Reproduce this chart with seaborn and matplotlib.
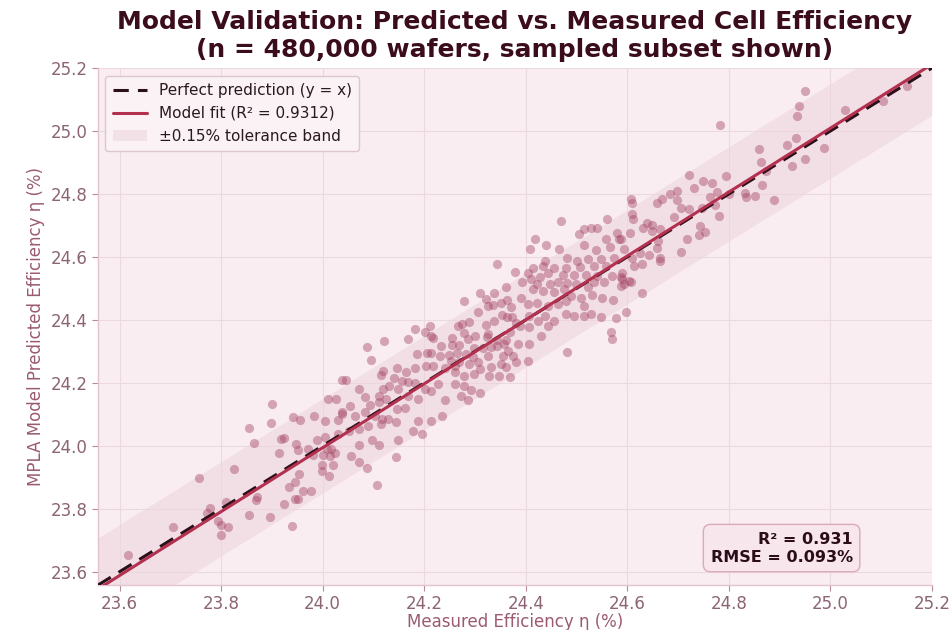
import numpy as np
import pandas as pd
import seaborn as sns
from matplotlib import pyplot as plt
from matplotlib.patches import Patch
from matplotlib.lines import Line2D

# sampled wafers (measured %, predicted %)
measured_low = [23.616, 23.706, 23.757, 23.778, 23.773, 23.794, 23.799, 23.814, 23.800, 23.809,
                23.826, 23.855, 23.865, 23.855, 23.871, 23.869, 23.897, 23.901, 23.899, 23.914,
                23.918, 23.924, 23.923, 23.933, 23.939, 23.942, 23.956, 23.947, 23.952, 23.946,
                23.954, 23.945, 23.952, 23.961, 23.978, 23.971, 23.982, 23.981, 23.998, 23.999,
                24.013, 24.020, 24.005, 24.011, 24.027, 23.989, 24.000, 24.008, 24.017, 24.025,
                24.014, 24.004, 24.030, 24.039, 24.038, 24.108, 24.145, 24.087, 24.071, 24.055]
predicted_low = [23.652, 23.741, 23.899, 23.804, 23.788, 23.760, 23.747, 23.742, 23.718, 23.822,
                 23.926, 24.056, 24.009, 23.779, 23.836, 23.827, 23.775, 24.134, 24.074, 23.978,
                 24.021, 24.026, 23.816, 23.870, 23.744, 24.091, 24.082, 24.005, 23.988, 23.885,
                 23.910, 23.830, 23.832, 23.857, 23.858, 23.990, 24.095, 23.972, 23.938, 23.919,
                 23.904, 23.938, 24.079, 24.149, 24.148, 24.017, 23.972, 23.990, 23.990, 23.977,
                 23.969, 24.029, 24.083, 24.210, 24.101, 23.876, 23.966, 23.929, 23.948, 23.968]

measured_mid = [24.344, 24.379, 24.310, 24.337, 24.362, 24.278, 24.321, 24.335, 24.352, 24.363,
                24.371, 24.363, 24.353, 24.373, 24.381, 24.337, 24.321, 24.289, 24.275, 24.211,
                24.182, 24.201, 24.213, 24.169, 24.120, 24.087, 24.096, 24.185, 24.206, 24.218,
                24.234, 24.255, 24.254, 24.268, 24.278, 24.286, 24.300, 24.326, 24.344, 24.362,
                24.343, 24.316, 24.299, 24.283, 24.265, 24.248, 24.231, 24.213, 24.326, 24.355,
                24.375, 24.305, 24.288, 24.269, 24.253, 24.309, 24.332, 24.347, 24.361, 24.369,
                24.328, 24.298, 24.278, 24.261, 24.241, 24.218, 24.204, 24.182, 24.165, 24.146,
                24.118, 24.115, 24.141, 24.156, 24.169, 24.182, 24.201, 24.214, 24.227, 24.260,
                24.278, 24.293, 24.309, 24.273, 24.286, 24.241, 24.188, 24.169, 24.149, 24.131,
                24.119, 24.110, 24.124, 24.110, 24.094, 24.084, 24.071, 24.045, 24.054, 24.038,
                24.064, 24.084, 24.103, 24.116, 24.129, 24.146, 24.162, 24.144, 24.114, 24.090,
                24.071, 24.051, 24.031, 24.097, 24.149, 24.187, 24.214, 24.235, 24.178, 24.196,
                24.110, 24.071]
predicted_mid = [24.576, 24.552, 24.486, 24.486, 24.504, 24.459, 24.466, 24.447, 24.455, 24.462,
                 24.440, 24.408, 24.416, 24.410, 24.390, 24.398, 24.383, 24.392, 24.386, 24.381,
                 24.371, 24.360, 24.350, 24.339, 24.333, 24.315, 24.273, 24.291, 24.296, 24.341,
                 24.316, 24.343, 24.321, 24.321, 24.357, 24.338, 24.348, 24.354, 24.337, 24.337,
                 24.318, 24.311, 24.311, 24.293, 24.295, 24.288, 24.285, 24.295, 24.286, 24.286,
                 24.286, 24.265, 24.259, 24.265, 24.270, 24.244, 24.249, 24.223, 24.249, 24.220,
                 24.223, 24.228, 24.223, 24.234, 24.246, 24.254, 24.254, 24.247, 24.235, 24.246,
                 24.239, 24.225, 24.215, 24.206, 24.202, 24.199, 24.181, 24.175, 24.196, 24.196,
                 24.191, 24.178, 24.168, 24.159, 24.144, 24.144, 24.149, 24.159, 24.181, 24.191,
                 24.181, 24.159, 24.149, 24.138, 24.130, 24.154, 24.181, 24.209, 24.128, 24.107,
                 24.096, 24.107, 24.096, 24.086, 24.086, 24.117, 24.119, 24.075, 24.070, 24.064,
                 24.054, 24.048, 24.038, 24.017, 24.019, 24.080, 24.079, 24.096, 24.048, 24.038,
                 24.001, 24.001]

measured_upper = [24.607, 24.610, 24.658, 24.669, 24.610, 24.612, 24.561, 24.469, 24.639, 24.649,
                  24.631, 24.665, 24.529, 24.540, 24.515, 24.505, 24.579, 24.605, 24.558, 24.584,
                  24.419, 24.440, 24.466, 24.409, 24.515, 24.538, 24.566, 24.594, 24.659, 24.625,
                  24.643, 24.665, 24.437, 24.482, 24.501, 24.522, 24.549, 24.574, 24.610, 24.613,
                  24.629, 24.558, 24.535, 24.507, 24.479, 24.455, 24.433, 24.415, 24.404, 24.429,
                  24.443, 24.473, 24.496, 24.518, 24.540, 24.569, 24.587, 24.603, 24.594, 24.554,
                  24.535, 24.522, 24.499, 24.481, 24.463, 24.447, 24.422, 24.410, 24.392, 24.414,
                  24.433, 24.455, 24.476, 24.490, 24.508, 24.531, 24.551, 24.571, 24.629, 24.390,
                  24.404, 24.422, 24.443, 24.463, 24.479, 24.515, 24.479, 24.496, 24.515, 24.528,
                  24.548, 24.597, 24.577, 24.567, 24.569, 24.482, 24.437, 24.456, 24.443, 24.424,
                  24.407, 24.326, 24.306, 24.267, 24.323, 24.368, 24.388, 24.407, 24.430, 24.407,
                  24.384, 24.365, 24.296, 24.260, 24.352, 24.381, 24.404, 24.358, 24.332]
predicted_upper = [24.785, 24.770, 24.772, 24.785, 24.735, 24.722, 24.719, 24.714, 24.709, 24.700,
                   24.693, 24.690, 24.693, 24.693, 24.688, 24.674, 24.677, 24.675, 24.656, 24.658,
                   24.658, 24.637, 24.624, 24.624, 24.637, 24.622, 24.633, 24.624, 24.628, 24.614,
                   24.605, 24.595, 24.587, 24.595, 24.587, 24.593, 24.593, 24.598, 24.595, 24.571,
                   24.579, 24.571, 24.571, 24.569, 24.566, 24.565, 24.571, 24.566, 24.548, 24.535,
                   24.548, 24.542, 24.542, 24.542, 24.538, 24.540, 24.535, 24.524, 24.513, 24.519,
                   24.519, 24.503, 24.513, 24.517, 24.519, 24.513, 24.513, 24.529, 24.519, 24.498,
                   24.492, 24.487, 24.498, 24.476, 24.471, 24.479, 24.468, 24.464, 24.484, 24.471,
                   24.450, 24.455, 24.445, 24.450, 24.460, 24.445, 24.418, 24.413, 24.413, 24.418,
                   24.408, 24.424, 24.405, 24.360, 24.339, 24.297, 24.413, 24.397, 24.381, 24.397,
                   24.413, 24.445, 24.424, 24.381, 24.345, 24.361, 24.381, 24.376, 24.350, 24.323,
                   24.323, 24.302, 24.281, 24.254, 24.260, 24.265, 24.270, 24.323, 24.313]

measured_top = [24.951, 24.939, 24.935, 25.028, 25.103, 25.151, 24.782, 24.933, 24.915, 24.987,
                24.860, 24.951, 24.863, 24.925, 24.873, 24.721, 24.795, 24.750, 24.767, 24.866,
                24.731, 24.698, 24.684, 24.777, 24.831, 24.833, 24.852, 24.889, 24.801, 24.763,
                24.698, 24.705, 24.721, 24.747, 24.773, 24.780, 24.692, 24.649, 24.588, 24.661,
                24.718, 24.744, 24.741, 24.754, 24.705, 24.664, 24.590, 24.607, 24.588, 24.590]
predicted_top = [25.127, 25.078, 25.047, 25.068, 25.094, 25.144, 25.020, 24.978, 24.956, 24.947,
                 24.943, 24.910, 24.903, 24.890, 24.872, 24.860, 24.858, 24.841, 24.836, 24.830,
                 24.819, 24.810, 24.801, 24.806, 24.802, 24.790, 24.792, 24.781, 24.799, 24.791,
                 24.780, 24.756, 24.751, 24.756, 24.765, 24.730, 24.728, 24.682, 24.656, 24.651,
                 24.656, 24.698, 24.669, 24.679, 24.617, 24.587, 24.550, 24.521, 24.508, 24.529]

axis_lims = [23.557, 25.2]
ticks = [23.6, 23.8, 24.0, 24.2, 24.4, 24.6, 24.8, 25.0, 25.2]
tolerance = 0.15
# fit line as drawn in the reference: a touch steeper than y = x, crossing near 24.4
fit_slope = 1.015
fit_intercept = -0.366
r2_text = "0.931"
r2_legend = "0.9312"
rmse_text = "0.093%"


def build_frame() -> pd.DataFrame:
    df = pd.DataFrame({
        "measured": measured_low + measured_mid + measured_upper + measured_top,
        "predicted": predicted_low + predicted_mid + predicted_upper + predicted_top,
    })
    return df


def main():
    df = build_frame()

    sns.set_theme(style="whitegrid")
    plt.rcParams["font.family"] = ["DejaVu Sans"]

    fig, ax = plt.subplots(figsize=(9.49, 6.3), dpi=100)
    fig.patch.set_facecolor("white")
    fig.subplots_adjust(left=0.103, right=0.982, bottom=0.071, top=0.892)
    ax.set_facecolor("#f9edf2")

    lims = np.array(axis_lims)

    # tolerance band around y = x
    ax.fill_between(lims, lims - tolerance, lims + tolerance,
                    color="#ecd3dc", alpha=0.5, linewidth=0, zorder=1)

    sns.scatterplot(data=df, x="measured", y="predicted", ax=ax,
                    s=44, color="#a3405f", alpha=0.42, linewidth=0, zorder=2)

    # perfect prediction and model fit
    ax.plot(lims, lims, color="#2a1018", lw=2.2, ls=(0, (5, 3)), zorder=3)
    ax.plot(lims, fit_slope * lims + fit_intercept, color="#b3304f", lw=2.2, zorder=4)

    ax.set_xlim(axis_lims)
    ax.set_ylim(axis_lims)
    ax.set_xticks(ticks)
    ax.set_yticks(ticks)
    ax.grid(True, color="#ecd9e0", lw=0.8)

    for side in ["top", "right"]:
        ax.spines[side].set_visible(False)
    for side in ["left", "bottom"]:
        ax.spines[side].set_color("#e2c3cf")
        ax.spines[side].set_linewidth(1.0)
    ax.tick_params(axis="both", length=4, width=0.8, color="#b68a9b",
                   labelcolor="#8c6475", labelsize=12, direction="out", pad=3)
    ax.tick_params(bottom=True, left=True)

    ax.set_xlabel("Measured Efficiency η (%)", fontsize=12, color="#9a5a72", labelpad=0)
    ax.set_ylabel("MPLA Model Predicted Efficiency η (%)", fontsize=12, color="#9a5a72")
    ax.set_title("Model Validation: Predicted vs. Measured Cell Efficiency\n"
                 "(n = 480,000 wafers, sampled subset shown)",
                 fontsize=18, fontweight="bold", color="#3a0c1c", pad=8)

    handles = [
        Line2D([0], [0], color="#2a1018", lw=2.2, ls=(0, (5, 3))),
        Line2D([0], [0], color="#b3304f", lw=2.2),
        Patch(facecolor="#ecd3dc", alpha=0.55, edgecolor="none"),
    ]
    labels = ["Perfect prediction (y = x)",
              f"Model fit (R² = {r2_legend})",
              f"±{tolerance:.2f}% tolerance band"]
    leg = ax.legend(handles, labels, loc="upper left", fontsize=11, frameon=True,
                    facecolor="#fbf3f6", edgecolor="#dcc4cd", framealpha=0.95,
                    borderpad=0.5, handlelength=2.2)
    for t in leg.get_texts():
        t.set_color("#2a1a20")

    ax.text(0.905, 0.04, f"R² = {r2_text}\nRMSE = {rmse_text}",
            transform=ax.transAxes, ha="right", va="bottom", fontsize=11.5,
            fontweight="bold", color="#2a0d18", linespacing=1.25,
            bbox=dict(boxstyle="round,pad=0.45", facecolor="#f8e6ed",
                      edgecolor="#d9aabb", lw=1.0), zorder=5)

    fig.savefig("out.png", dpi=100)


if __name__ == '__main__':
    main()
